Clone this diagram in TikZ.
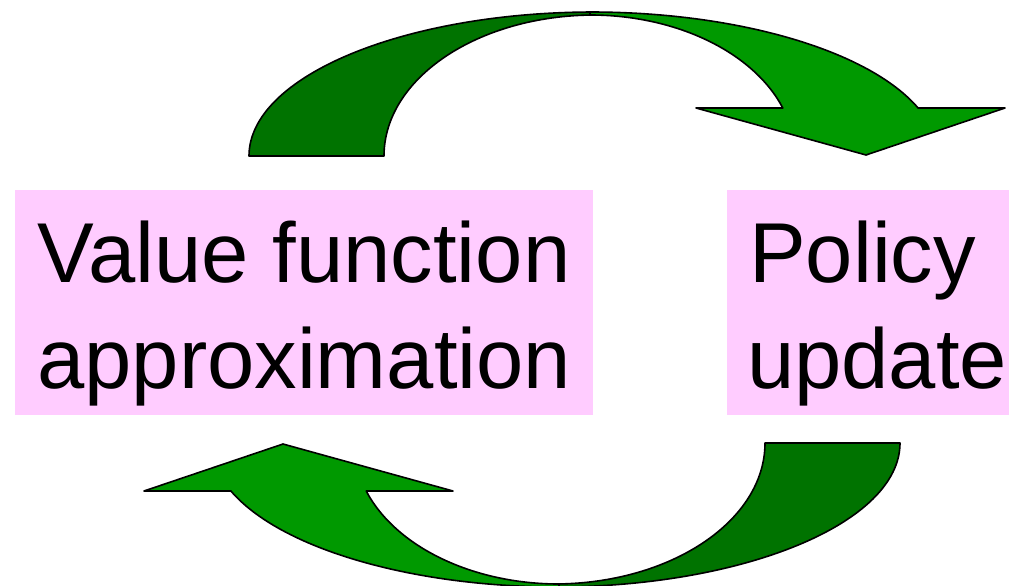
\documentclass[tikz,border=0pt]{standalone}
\usepackage{fontspec}
\setmainfont{Liberation Sans}
\definecolor{boxpink}{RGB}{255,204,255}
\definecolor{greenback}{RGB}{0,115,0}
\definecolor{greenfront}{RGB}{0,153,0}
\begin{document}
\begin{tikzpicture}[x=1pt,y=1pt,
  band/.style={draw=black, line width=1.6pt, line join=round},
  panel/.style={fill=boxpink, draw=none, inner sep=0pt, anchor=north west},
  lbl/.style={font=\fontsize{85}{100}\selectfont, inner sep=0pt, text=black}]
\useasboundingbox (0,0) rectangle (1012,-586);

% two curved arrows; the lower one is the upper one turned half a turn
\foreach \turn in {0,180}{
  \begin{scope}[rotate around={\turn:(574.5,-299.5)}]
    % rear band, from the tail up to the crest
    \filldraw[band, fill=greenback]
      (249,-156) arc[start angle=180, end angle=90, x radius=346pt, y radius=144pt]
      -- (595,-15) arc[start angle=90, end angle=180, x radius=211pt, y radius=141pt]
      -- cycle;
    % front band, from the crest down to the head
    \filldraw[band, fill=greenfront]
      (590,-12) arc[start angle=90, end angle=19.47, x radius=348pt, y radius=144pt]
      -- (1005,-108) -- (866,-155) -- (696,-108) -- (782.8,-108)
      arc[start angle=19.9, end angle=90, x radius=205pt, y radius=141pt]
      -- cycle;
  \end{scope}
}

% boxes
\node[panel, minimum width=578pt, minimum height=225pt] (vfa) at (15,-190) {};
\node[panel, minimum width=282pt, minimum height=225pt] (pu) at (727,-190) {};

% labels
\node[lbl, anchor=base] (vfa1) at (vfa.north |- 0,-282) {Value function};
\node[lbl, anchor=base] (vfa2) at (vfa.north |- 0,-388) {approximation};
\node[lbl, anchor=base west] (pu1) at (749,-282) {Policy};
\node[lbl, anchor=base west] (pu2) at (747,-388) {update};
\end{tikzpicture}
\end{document}
